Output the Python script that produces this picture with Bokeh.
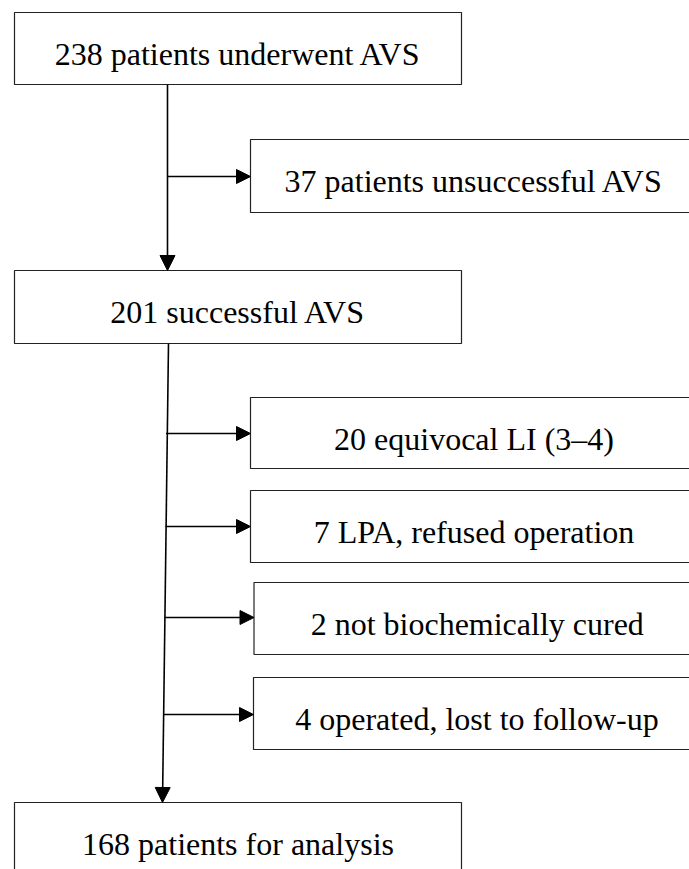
from bokeh.plotting import figure
from bokeh.models import ColumnDataSource, Arrow, NormalHead, Range1d
from bokeh.core.properties import value
from bokeh.embed import file_html
from bokeh.resources import INLINE

# ---- data ----
main_labels = ["238 patients underwent AVS", "201 successful AVS", "168 patients for analysis"]
side_labels = ["37 patients unsuccessful AVS", "20 equivocal LI (3\u20134)",
               "7 LPA, refused operation", "2 not biochemically cured",
               "4 operated, lost to follow-up"]

# ---- layout (pixel-like units) ----
main_left, main_right = 14, 461
main_top = [12, 270, 802]
main_bot = [84, 343, 880]
side_left = [250, 250, 250, 253.5, 253]
side_right = [697, 697, 697, 700, 700]
side_top = [139, 397, 490, 582, 677]
side_bot = [212, 468, 562, 654, 749]
branch_y = [176, 433, 526, 617, 714]
branch_x0 = [167, 165.5, 165, 164, 163.5]
trunk_x0 = [167, 168]
trunk_y0 = [84, 343]
trunk_x1 = [167, 162]
trunk_y1 = [270, 802]

W, H = 689, 869
p = figure(width=W, height=H, output_backend="svg", toolbar_location=None,
           x_range=Range1d(0, W), y_range=Range1d(H, 0),
           min_border=0, outline_line_color=None)
p.axis.visible = False
p.grid.visible = False

font = value("Times New Roman")

# boxes
p.quad(left=[main_left] * 3, right=[main_right] * 3, top=main_top, bottom=main_bot,
       fill_color="white", line_color="#222222", line_width=1.2)
p.quad(left=side_left, right=side_right, top=side_top, bottom=side_bot,
       fill_color="white", line_color="#222222", line_width=1.2)

# texts
p.text(x=[(main_left + main_right) / 2] * 3, y=[t + 41 for t in main_top], text=main_labels,
       text_font=font, text_font_size="32px", text_align="center",
       text_baseline="alphabetic", text_color="black")
p.text(x=[(l + r) / 2 for l, r in zip(side_left, side_right)], y=[t + 41 for t in side_top],
       text=side_labels, text_font=font, text_font_size="32px", text_align="center",
       text_baseline="alphabetic", text_color="black")

# trunks with arrowheads
tsrc = ColumnDataSource(dict(x0=trunk_x0, y0=trunk_y0, x1=trunk_x1, y1=trunk_y1))
p.add_layout(Arrow(end=NormalHead(size=15, fill_color="black", line_color="black", line_width=1),
                   x_start="x0", y_start="y0", x_end="x1", y_end="y1",
                   line_width=1.6, line_color="black", source=tsrc))

# branches
bsrc = ColumnDataSource(dict(x0=branch_x0, y0=branch_y, x1=side_left, y1=branch_y))
p.add_layout(Arrow(end=NormalHead(size=14, fill_color="black", line_color="black", line_width=1),
                   x_start="x0", y_start="y0", x_end="x1", y_end="y1",
                   line_width=1.6, line_color="black", source=bsrc))

open("out.html", "w").write(file_html(p, INLINE))
